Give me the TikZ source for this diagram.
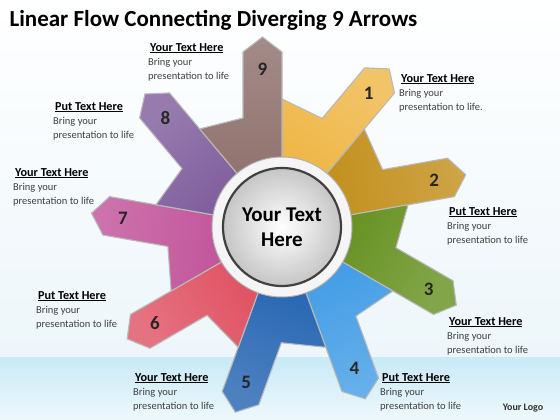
\documentclass[tikz,border=0pt]{standalone}
\usepackage{fontspec}
\setmainfont{Carlito}

\definecolor{pOne}{HTML}{EEB33E}
\definecolor{pTwo}{HTML}{C08A12}
\definecolor{pThree}{HTML}{5E8C16}
\definecolor{pFour}{HTML}{3A98E4}
\definecolor{pFive}{HTML}{1A5DAE}
\definecolor{pSix}{HTML}{DE4A5C}
\definecolor{pSeven}{HTML}{BE4A94}
\definecolor{pEight}{HTML}{7A5698}
\definecolor{pNine}{HTML}{8A6A66}
\definecolor{bgLow}{HTML}{EDF6FA}
\definecolor{bandTop}{HTML}{C9EAF7}
\definecolor{bandLow}{HTML}{EEF8FC}

\tikzset{
  petal/.style={draw=gray!55, line width=1.1pt},
  num/.style={font=\fontsize{19}{19}\selectfont\bfseries, text=black!85},
  note/.style={anchor=north west, align=left, inner sep=0pt,
    font=\fontsize{10.5}{14}\selectfont, text=black!75}
}
\newcommand{\heading}[1]{\hspace*{2pt}{\fontsize{12.2}{14}\selectfont\bfseries\color{black}\underline{#1}}}
\newcommand{\petal}[4]{%
  \begin{scope}[shift={(c)}, rotate=#1]
    \draw[petal, top color=#2!78!white, bottom color=#2, shading angle=#1-90]
      (0,0) -- (175,0) -- (190,19.5) -- (175,39) -- (109,39) -- (40:128) -- cycle;
    \node[num] (#4) at (158,19.5) {#3};
  \end{scope}}

\begin{document}
\begin{tikzpicture}[x=1pt,y=1pt]
	\useasboundingbox (0,0) rectangle (560,420);
	% background
	\fill[top color=white, bottom color=bgLow] (0,62) rectangle (560,420);
	\fill[top color=bandTop, bottom color=bandLow] (0,0) rectangle (560,62);
	\node[anchor=west, font=\fontsize{23}{26}\selectfont\bfseries] (title) at (6,400) {Linear Flow Connecting Diverging 9 Arrows};
	\coordinate (c) at (282,193);
	% arrows
	\petal{50}{pOne}{1}{n1}
	\petal{10}{pTwo}{2}{n2}
	\petal{-30}{pThree}{3}{n3}
	\petal{-70}{pFour}{4}{n4}
	\petal{-110}{pFive}{5}{n5}
	\petal{-150}{pSix}{6}{n6}
	\petal{170}{pSeven}{7}{n7}
	\petal{130}{pEight}{8}{n8}
	\petal{90}{pNine}{9}{n9}
	% hub
	\draw[gray!60, fill=gray!8, line width=1pt] (c) circle (70);
	\draw[black!75, line width=2.2pt, inner color=white, outer color=gray!45] (c) circle (59);
	\node[align=center, font=\fontsize{21}{25}\selectfont\bfseries] (hub) at (c) {Your Text\\Here};
	% texts
	\node[note] (t9) at (148,377) {\heading{Your Text Here}\\Bring your\\presentation to life};
	\node[note] (t1) at (399,346) {\heading{Your Text Here}\\Bring your\\presentation to life.};
	\node[note] (t2) at (447,213) {\heading{Put Text Here}\\Bring your\\presentation to life};
	\node[note] (t3) at (447,103) {\heading{Your Text Here}\\Bring your\\presentation to life};
	\node[note] (t4) at (380,47) {\heading{Put Text Here}\\Bring your\\presentation to life};
	\node[note] (t5) at (133,47) {\heading{Your Text Here}\\Bring your\\presentation to life};
	\node[note] (t6) at (36,129) {\heading{Put Text Here}\\Bring your\\presentation to life};
	\node[note] (t7) at (13,252) {\heading{Your Text Here}\\Bring your\\presentation to life};
	\node[note] (t8) at (53,318) {\heading{Put Text Here}\\Bring your\\presentation to life};
	\node[font=\fontsize{10}{12}\selectfont\bfseries, text=black!80] (logo) at (523,12) {Your Logo};
\end{tikzpicture}
\end{document}
